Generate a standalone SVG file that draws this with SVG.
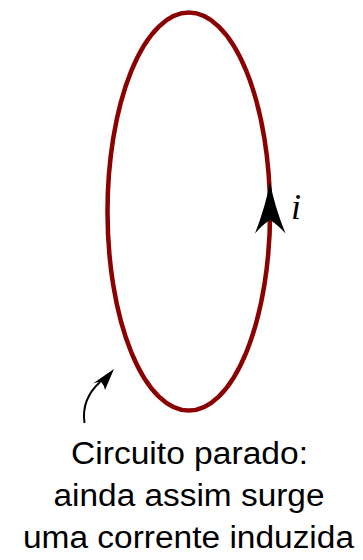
<svg xmlns="http://www.w3.org/2000/svg" width="363" height="560" viewBox="0 0 363 560">
<style>
.loop{fill:none;stroke:#8b0000;stroke-width:4.5}
.lbl{font-family:"Liberation Sans",Arial,sans-serif;font-size:31px;fill:#000;text-anchor:middle}
.math{font-family:"Liberation Serif","Times New Roman",serif;font-style:italic;font-size:36px;fill:#000}
</style>
<rect width="363" height="560" fill="#fff"/>
<g id="loop">
<ellipse class="loop" cx="188.8" cy="211.6" rx="81.3" ry="199"/>
</g>
<g id="connectors">
<path d="M270,181.5 Q266,205 255,233.5 Q262,225 270,220 Q278,225 285.5,233.5 Q274,205 270,181.5 Z" fill="#000"/>
<path d="M84.5,423 C82,406 88,393 100,382" fill="none" stroke="#000" stroke-width="2"/>
<path d="M114,369 L93,383.5 Q98,381 101.5,382.5 Q104,385 105,390 Z" fill="#000"/>
</g>
<g id="current-label">
<text class="math" x="291" y="219">i</text>
</g>
<g id="caption">
<text class="lbl" x="189.5" y="464" textLength="237" lengthAdjust="spacingAndGlyphs">Circuito parado:</text>
<text class="lbl" x="189" y="506" textLength="271" lengthAdjust="spacingAndGlyphs">ainda assim surge</text>
<text class="lbl" x="188.5" y="548" textLength="331" lengthAdjust="spacingAndGlyphs">uma corrente induzida</text>
</g>
</svg>
